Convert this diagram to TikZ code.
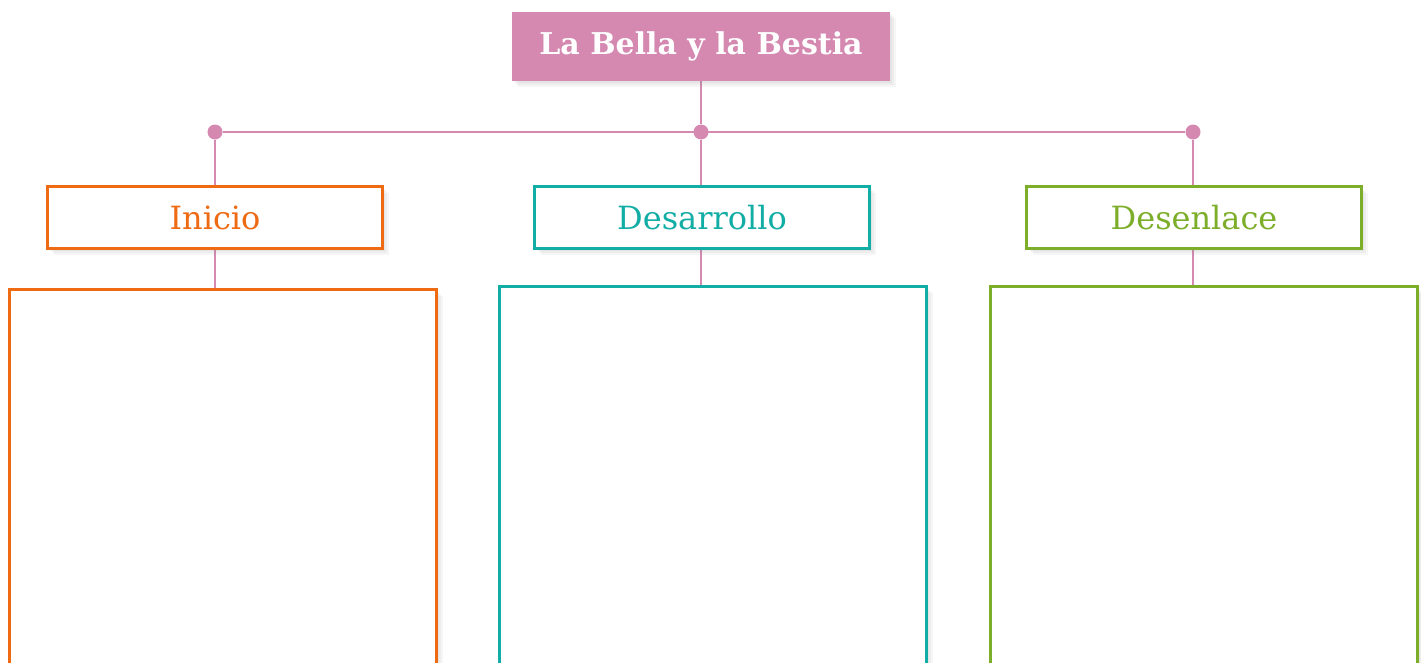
\documentclass[tikz,border=0pt]{standalone}
\usepackage{fontspec}
\setmainfont{DejaVu Serif}
\usetikzlibrary{positioning,shadows,backgrounds}
\definecolor{rosa}{HTML}{D589B1}
\definecolor{naranja}{HTML}{EE6B14}
\definecolor{turquesa}{HTML}{12ADA4}
\definecolor{verde}{HTML}{7DAE2A}
\tikzset{x=1pt, y=-1pt}
\tikzset{sombra/.style={
    drop shadow={opacity=0.07, shadow xshift=6pt, shadow yshift=-6pt},
    drop shadow={opacity=0.08, shadow xshift=4pt, shadow yshift=-4pt},
    drop shadow={opacity=0.08, shadow xshift=2pt, shadow yshift=-2pt}}}
\tikzstyle{titulo}=[fill=rosa, text=white, inner sep=0pt, minimum width=378, minimum height=69, font=\bfseries\fontsize{30}{34}\selectfont, sombra]
\tikzstyle{cabeza}=[draw, line width=3pt, fill=white, inner sep=0pt, minimum width=335, minimum height=62, font=\fontsize{32}{36}\selectfont, sombra]
\tikzstyle{caja}=[draw, line width=3pt, fill=white, inner sep=0pt, minimum width=427, minimum height=420, anchor=north, sombra]
\tikzstyle{punto}=[circle, fill=rosa, inner sep=0pt, minimum size=15]
\tikzstyle{enlace}=[draw=rosa, line width=2.6pt]

\begin{document}
\begin{tikzpicture}
  \clip (0,0) rectangle (1421,662);
  \useasboundingbox (0,0) rectangle (1421,662);

  \node[titulo] (titulo) at (701,46.5) {La Bella y la Bestia};
  \node[punto] (p_1) at (215,132) {};
  \node[punto] (p_2) at (701,132) {};
  \node[punto] (p_3) at (1193,132) {};

  \node[cabeza, draw=naranja, text=naranja] (inicio) at (215,217.5) {Inicio};
  \node[cabeza, draw=turquesa, text=turquesa] (desarrollo) at (702,217.5) {Desarrollo};
  \node[cabeza, draw=verde, text=verde] (desenlace) at (1194,217.5) {Desenlace};

  \node[caja, draw=naranja] (c_1) at (223,288) {};
  \node[caja, draw=turquesa] (c_2) at (713,285) {};
  \node[caja, draw=verde] (c_3) at (1204,285) {};

  \begin{scope}[on background layer]
    \path[enlace] (titulo) -- (p_2);
    \path[enlace] (p_1) -- (p_3);
    \path[enlace] (p_1) -- (p_1 |- inicio.north);
    \path[enlace] (p_2) -- (p_2 |- desarrollo.north);
    \path[enlace] (p_3) -- (p_3 |- desenlace.north);
    \path[enlace] (p_1 |- inicio.south) -- (p_1 |- c_1.north);
    \path[enlace] (p_2 |- desarrollo.south) -- (p_2 |- c_2.north);
    \path[enlace] (p_3 |- desenlace.south) -- (p_3 |- c_3.north);
  \end{scope}
\end{tikzpicture}
\end{document}
